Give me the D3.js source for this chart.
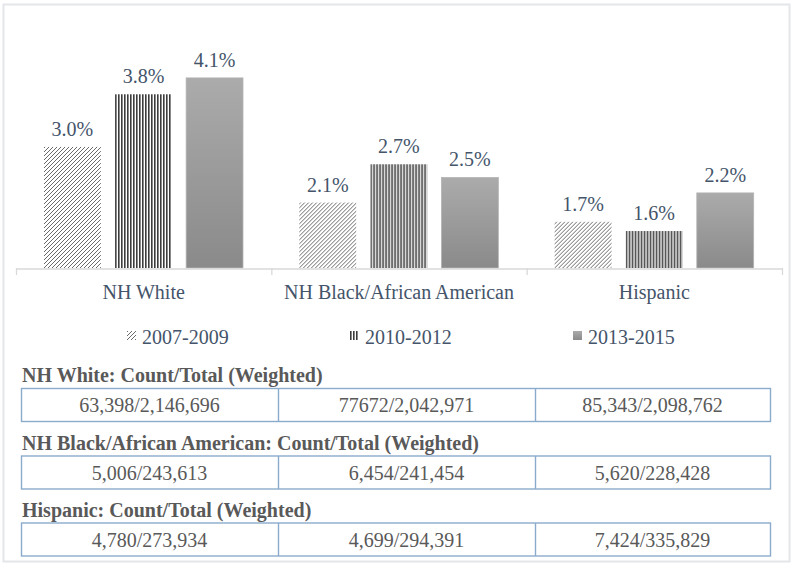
<!DOCTYPE html>
<html>
<head>
<meta charset="utf-8">
<script src="https://cdn.jsdelivr.net/npm/d3@7"></script>
<style>
  html, body { margin: 0; padding: 0; background: #fff; }
  svg { display: block; }
  text { font-family: "Liberation Serif", "Times New Roman", serif; }
</style>
</head>
<body>
<svg id="chart" width="794" height="565"></svg>
<script>
// ---------- data ----------
const categories = ["NH White", "NH Black/African American", "Hispanic"];
const seriesNames = ["2007-2009", "2010-2012", "2013-2015"];
const values2007 = [2.953, 2.055, 1.745];
const values2010 = [3.802, 2.673, 1.596];
const values2013 = [4.066, 2.460, 2.211];
const tableHeaders = [
  "NH White: Count/Total (Weighted)",
  "NH Black/African American: Count/Total (Weighted)",
  "Hispanic: Count/Total (Weighted)"
];
const countsWhite = ["63,398/2,146,696", "77672/2,042,971", "85,343/2,098,762"];
const countsBlack = ["5,006/243,613", "6,454/241,454", "5,620/228,428"];
const countsHispanic = ["4,780/273,934", "4,699/294,391", "7,424/335,829"];

const seriesValues = [values2007, values2010, values2013];
const tableRows = [countsWhite, countsBlack, countsHispanic];

// ---------- setup ----------
const svg = d3.select("#chart");
const defs = svg.append("defs");

// diagonal hatch
const pDiag = defs.append("pattern").attr("id", "pDiag")
  .attr("patternUnits", "userSpaceOnUse").attr("width", 4).attr("height", 4);
pDiag.append("rect").attr("width", 4).attr("height", 4).attr("fill", "#fff");
pDiag.append("path").attr("d", "M-1,1 L1,-1 M0,4 L4,0 M3,5 L5,3")
  .attr("stroke", "#6a6a6a").attr("stroke-width", 1);

// vertical lines
const pVert = defs.append("pattern").attr("id", "pVert")
  .attr("patternUnits", "userSpaceOnUse").attr("width", 3).attr("height", 3);
pVert.append("rect").attr("width", 3).attr("height", 3).attr("fill", "#fff");
pVert.append("rect").attr("x", 0).attr("width", 1.6).attr("height", 3).attr("fill", "#3d3d3d");

// gray gradient
const grad = defs.append("linearGradient").attr("id", "gGray")
  .attr("x1", 0).attr("y1", 0).attr("x2", 0).attr("y2", 1);
grad.append("stop").attr("offset", "0%").attr("stop-color", "#ababab");
grad.append("stop").attr("offset", "100%").attr("stop-color", "#8a8a8a");

const fills = ["url(#pDiag)", "url(#pVert)", "url(#gGray)"];
const textColor = "#44546a";

// outer frame
svg.append("rect").attr("x", 3.5).attr("y", 4.5).attr("width", 786).attr("height", 557)
  .attr("fill", "none").attr("stroke", "#e4e6ea").attr("stroke-width", 2);

// ---------- scales ----------
const x0 = d3.scaleBand().domain(categories).range([16, 782]).padding(0);
const x1 = d3.scaleBand().domain(seriesNames).range([28, 227]).paddingInner(0.2).paddingOuter(0);
const y = d3.scaleLinear().domain([1, 4.5]).range([268, 51]);

// ---------- bars ----------
const groups = svg.append("g").selectAll("g").data(categories).join("g")
  .attr("transform", d => `translate(${x0(d)},0)`);

groups.each(function(cat, ci) {
  const g = d3.select(this);
  seriesNames.forEach((s, si) => {
    const v = seriesValues[si][ci];
    g.append("rect")
      .attr("x", x1(s)).attr("y", y(v))
      .attr("width", x1.bandwidth()).attr("height", y.range()[0] - y(v))
      .attr("fill", fills[si])
      .attr("stroke", si === 2 ? "#b3b3b3" : "none").attr("stroke-width", 0.8);
    g.append("text")
      .attr("x", x1(s) + x1.bandwidth() / 2).attr("y", y(v) - 11)
      .attr("text-anchor", "middle").attr("fill", textColor)
      .attr("font-size", 20).text(v.toFixed(1) + "%");
  });
});

// ---------- axis ----------
const axis = d3.axisBottom(x0).tickSize(0).tickSizeOuter(0);
const ax = svg.append("g").attr("transform", `translate(0,${y.range()[0] + 0.5})`).call(axis);
ax.attr("font-family", null);
ax.select(".domain").attr("stroke", "#d9d9d9").attr("stroke-width", 1.3);
ax.selectAll(".tick text").attr("font-size", 20).attr("fill", textColor)
  .attr("dy", 0).attr("y", 30);
// boundary ticks
const bounds = categories.map(c => x0(c)).concat([x0.range()[1]]);
svg.append("g").selectAll("line").data(bounds).join("line")
  .attr("x1", d => d + 0.5).attr("x2", d => d + 0.5)
  .attr("y1", y.range()[0]).attr("y2", y.range()[0] + 7)
  .attr("stroke", "#d9d9d9").attr("stroke-width", 1.3);

// ---------- legend ----------
const legendX = d3.scalePoint().domain(seriesNames).range([127, 573]);
const lg = svg.append("g").selectAll("g").data(seriesNames).join("g")
  .attr("transform", d => `translate(${legendX(d)},0)`);
lg.append("rect").attr("x", 0).attr("y", 331).attr("width", 9).attr("height", 9)
  .attr("fill", (d, i) => fills[i]);
lg.append("text").attr("x", 15).attr("y", 344).attr("font-size", 20)
  .attr("fill", textColor).text(d => d);

// ---------- table ----------
const colEdges = [21, 278, 535, 770];
const boxTops = [388, 455.5, 522.5];
const boxH = 33;
const tColor = "#595959";
const tg = svg.append("g");
tableHeaders.forEach((h, ri) => {
  const top = boxTops[ri];
  tg.append("text").attr("x", 22).attr("y", top - 6)
    .attr("font-size", 20).attr("font-weight", "bold").attr("fill", tColor).text(h);
  tg.append("rect").attr("x", colEdges[0] + 0.5).attr("y", top + 0.5)
    .attr("width", colEdges[3] - colEdges[0]).attr("height", boxH)
    .attr("fill", "none").attr("stroke", "#8aabcc").attr("stroke-width", 1.4);
  [1, 2].forEach(k => {
    tg.append("line").attr("x1", colEdges[k] + 0.5).attr("x2", colEdges[k] + 0.5)
      .attr("y1", top + 0.5).attr("y2", top + boxH + 0.5)
      .attr("stroke", "#8aabcc").attr("stroke-width", 1.4);
  });
  tableRows[ri].forEach((c, ci) => {
    tg.append("text").attr("x", (colEdges[ci] + colEdges[ci + 1]) / 2)
      .attr("y", top + boxH / 2 + 7.5).attr("text-anchor", "middle")
      .attr("font-size", 20).attr("fill", tColor).text(c);
  });
});
</script>
</body>
</html>
